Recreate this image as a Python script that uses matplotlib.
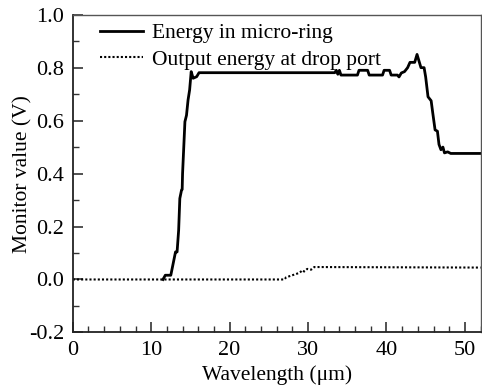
import matplotlib.pyplot as plt
from matplotlib.ticker import MultipleLocator

plt.rcParams['font.family'] = ['Liberation Serif', 'DejaVu Serif']

# Energy in micro-ring (solid)
ring_x = [11.5, 11.8, 12.5, 13.1, 13.3, 13.5, 13.65, 13.87, 13.95, 14.0, 14.3, 14.5,
          14.7, 14.9, 15.1, 15.35, 15.8, 16.1, 33.4, 33.6, 33.8, 34.0, 34.2, 36.3,
          36.5, 37.6, 37.8, 39.5, 39.7, 40.4, 40.6, 41.4, 41.6, 41.9, 42.3, 42.7,
          43.0, 43.6, 43.9, 44.1, 44.4, 44.8, 45.0, 45.3, 45.7, 45.9, 46.2, 46.5,
          46.7, 46.95, 47.2, 47.4, 47.8, 48.2, 52.0]
ring_y = [0.0, 0.016, 0.016, 0.104, 0.104, 0.186, 0.306, 0.338, 0.34, 0.40, 0.596, 0.62,
          0.678, 0.716, 0.785, 0.76, 0.766, 0.781, 0.781, 0.79, 0.775, 0.79, 0.772, 0.772,
          0.79, 0.79, 0.772, 0.772, 0.79, 0.79, 0.772, 0.772, 0.765, 0.78, 0.785, 0.80,
          0.82, 0.82, 0.85, 0.83, 0.80, 0.80, 0.765, 0.69, 0.675, 0.63, 0.565, 0.56,
          0.51, 0.49, 0.50, 0.478, 0.482, 0.476, 0.476]

# Output energy at drop port (dotted)
drop_x = [0.0, 27.0, 27.2, 28.0, 28.9, 29.3, 29.5, 29.9, 30.4, 30.8, 52.0]
drop_y = [0.0, 0.0, 0.008, 0.016, 0.025, 0.035, 0.03, 0.04, 0.037, 0.047, 0.045]

fig = plt.figure(figsize=(4.82, 3.87), dpi=100)
ax = fig.add_axes([0.151, 0.141, 0.846, 0.821])

ax.plot(ring_x, ring_y, color='black', lw=2.0, label='Energy in micro-ring')
ax.plot(drop_x, drop_y, color='black', lw=1.5, ls=(0, (1, 1)),
        label='Output energy at drop port')

ax.set_xlim(0, 52)
ax.set_ylim(-0.2, 1.0)
ax.xaxis.set_major_locator(MultipleLocator(10))
ax.xaxis.set_minor_locator(MultipleLocator(2))
ax.yaxis.set_major_locator(MultipleLocator(0.2))
ax.yaxis.set_minor_locator(MultipleLocator(0.1))
ax.yaxis.set_major_formatter(lambda v, p: f'{v:.1f}')
ax.tick_params(which='both', direction='in', labelsize=16, color='#333333', pad=6)
ax.tick_params(which='major', length=7, width=1.2)
ax.tick_params(which='minor', length=4, width=1.0)
for s in ax.spines.values():
    s.set_color('#555555')
    s.set_linewidth(1.0)
ax.spines['bottom'].set_color('#222222')
ax.spines['left'].set_color('#222222')
ax.spines['bottom'].set_linewidth(1.3)
ax.spines['left'].set_linewidth(1.3)

ax.set_xlabel('Wavelength (μm)', fontsize=15.5, labelpad=4)
ax.set_ylabel('Monitor value (V)', fontsize=15.5)
ax.yaxis.set_label_coords(-0.1, 0.5)

ax.legend(loc='upper left', frameon=False, fontsize=15.5, handlelength=2.0,
          handletextpad=0.45, borderaxespad=0.0, labelspacing=0.3,
          bbox_to_anchor=(0.045, 1.0))

fig.savefig('out.png', dpi=100)
